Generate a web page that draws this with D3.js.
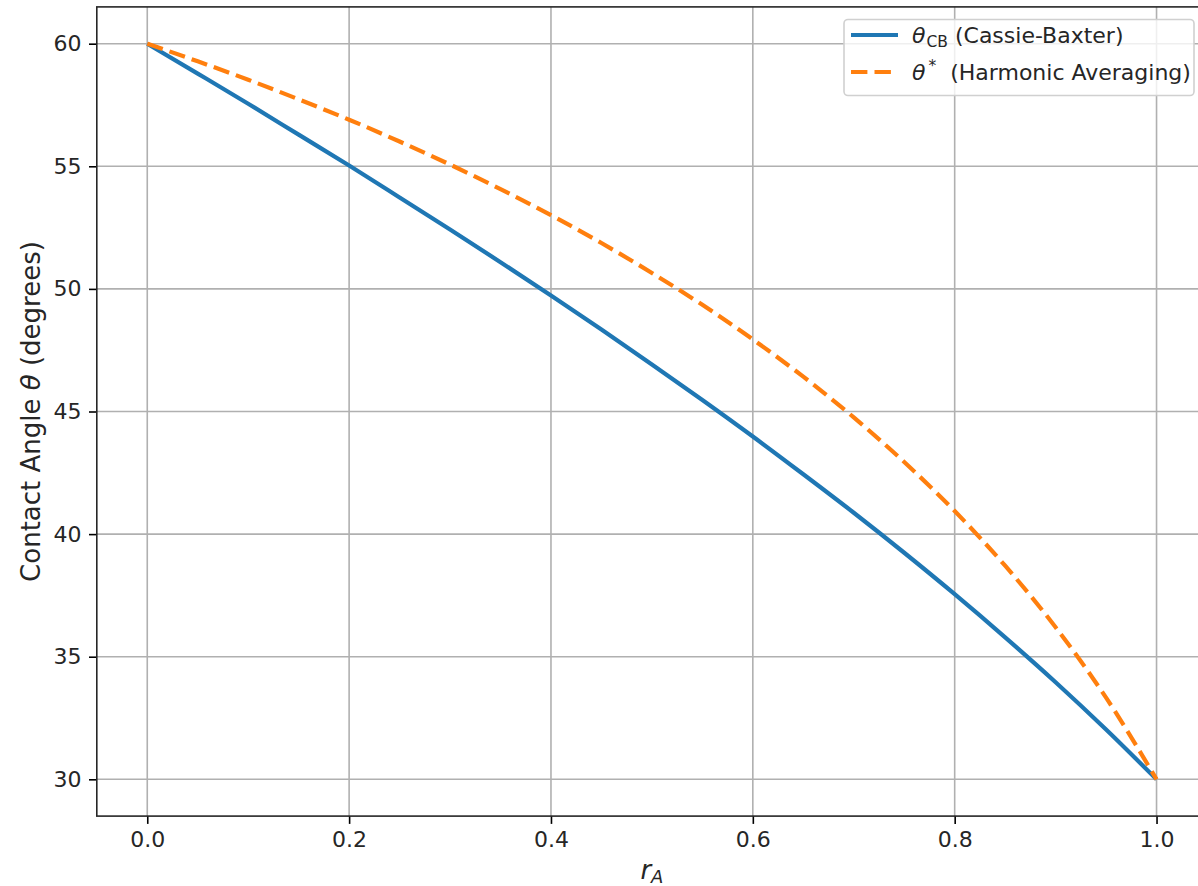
<!DOCTYPE html>
<html>
<head>
<meta charset="utf-8">
<script src="https://cdn.jsdelivr.net/npm/d3@7"></script>
<style>
  html, body { margin: 0; padding: 0; background: #fff; }
  svg { display: block; font-family: "DejaVu Sans", sans-serif; }
</style>
</head>
<body>
<svg id="chart" width="1198" height="886"></svg>
<script>
// Fraction of surface A, and the two contact-angle curves (degrees)
const rA = [0.00, 0.05, 0.10, 0.15, 0.20, 0.25, 0.30, 0.35, 0.40, 0.45, 0.50,
            0.55, 0.60, 0.65, 0.70, 0.75, 0.80, 0.85, 0.90, 0.95, 1.00];
const thetaCB = [60.00, 58.78, 57.55, 56.29, 55.03, 53.73, 52.42, 51.09, 49.73, 48.34, 46.92,
                 45.47, 43.98, 42.44, 40.87, 39.24, 37.55, 35.79, 33.96, 32.03, 30.00];
const thetaStar = [60.00, 59.28, 58.53, 57.73, 56.90, 56.01, 55.07, 54.07, 53.01, 51.87, 50.65,
                   49.35, 47.94, 46.42, 44.76, 42.94, 40.94, 38.71, 36.20, 33.33, 30.00];

const xTicks = [0.0, 0.2, 0.4, 0.6, 0.8, 1.0];
const yTicks = [30, 35, 40, 45, 50, 55, 60];

const svg = d3.select("#chart");
const pLeft = 96.8, pRight = 1207, pTop = 6.9, pBottom = 816.1;

const x = d3.scaleLinear().domain([-0.05, 1.05]).range([pLeft, pRight]);
const y = d3.scaleLinear().domain([28.5, 61.5]).range([pBottom, pTop]);

// grid
const grid = svg.append("g");
grid.selectAll(".gx").data(xTicks).join("line")
  .attr("x1", d => x(d)).attr("x2", d => x(d))
  .attr("y1", pTop).attr("y2", pBottom)
  .attr("stroke", "#b0b0b0").attr("stroke-width", 1.6);
grid.selectAll(".gy").data(yTicks).join("line")
  .attr("x1", pLeft).attr("x2", pRight)
  .attr("y1", d => y(d)).attr("y2", d => y(d))
  .attr("stroke", "#b0b0b0").attr("stroke-width", 1.6);

// curves
const line = (vals) => d3.line()
  .x((d, i) => x(rA[i]))
  .y(d => y(d))
  .curve(d3.curveMonotoneX)(vals);

svg.append("path").attr("d", line(thetaCB))
  .attr("fill", "none").attr("stroke", "#1f77b4")
  .attr("stroke-width", 4.2).attr("stroke-linecap", "butt");
svg.append("path").attr("d", line(thetaStar))
  .attr("fill", "none").attr("stroke", "#ff7f0e")
  .attr("stroke-width", 4.2).attr("stroke-dasharray", "16.4,7.1");

// axes
const xAxis = d3.axisBottom(x).tickValues(xTicks).tickFormat(d3.format(".1f"))
  .tickSize(7.8).tickPadding(7.6).tickSizeOuter(0);
const yAxis = d3.axisLeft(y).tickValues(yTicks).tickFormat(d3.format("d"))
  .tickSize(7.8).tickPadding(7.6).tickSizeOuter(0);

const gx = svg.append("g").attr("transform", `translate(0,${pBottom})`).call(xAxis);
const gy = svg.append("g").attr("transform", `translate(${pLeft},0)`).call(yAxis);
[gx, gy].forEach(g => {
  g.select(".domain").remove();
  g.selectAll(".tick line").attr("stroke", "#000").attr("stroke-width", 1.6);
  g.selectAll(".tick text").attr("fill", "#262626")
    .style("font-family", "'DejaVu Sans', sans-serif").style("font-size", "22px");
});

// spines
const spines = svg.append("g").attr("stroke", "#262626").attr("stroke-width", 1.6).attr("fill", "none");
spines.append("rect").attr("x", pLeft).attr("y", pTop)
  .attr("width", pRight - pLeft).attr("height", pBottom - pTop);

// axis labels
const xl = svg.append("text")
  .attr("x", (pLeft + pRight) / 2).attr("y", 879)
  .attr("text-anchor", "middle").attr("fill", "#262626")
  .style("font-size", "26px");
xl.append("tspan").style("font-style", "italic").text("r");
xl.append("tspan").style("font-style", "italic").style("font-size", "18px")
  .attr("dy", 4).text("A");

const yl = svg.append("text")
  .attr("transform", `translate(40,${(pTop + pBottom) / 2}) rotate(-90)`)
  .attr("text-anchor", "middle").attr("fill", "#262626")
  .style("font-size", "26px");
yl.append("tspan").text("Contact Angle ");
yl.append("tspan").style("font-style", "italic").text("θ");
yl.append("tspan").text(" (degrees)");

// legend
const lg = svg.append("g");
lg.append("rect").attr("x", 844).attr("y", 19.5).attr("width", 350).attr("height", 76)
  .attr("rx", 4).attr("fill", "rgba(255,255,255,0.8)")
  .attr("stroke", "#d0d0d0").attr("stroke-width", 1.6);

const entries = [
  { color: "#1f77b4", dash: null, main: "θ", sub: "CB", sup: null, rest: " (Cassie-Baxter)", cy: 35 },
  { color: "#ff7f0e", dash: "16.4,7.1", main: "θ", sub: null, sup: "*", rest: "  (Harmonic Averaging)", cy: 72 }
];
entries.forEach(e => {
  lg.append("line").attr("x1", 851).attr("x2", 898).attr("y1", e.cy).attr("y2", e.cy)
    .attr("stroke", e.color).attr("stroke-width", 4.2)
    .attr("stroke-dasharray", e.dash);
  const t = lg.append("text").attr("x", 912).attr("y", e.cy + 8)
    .attr("fill", "#262626").style("font-size", "22px").style("white-space", "pre");
  t.append("tspan").style("font-style", "italic").text(e.main);
  if (e.sub) {
    t.append("tspan").style("font-size", "15.5px").attr("dy", 4).attr("dx", 1).text(e.sub);
    t.append("tspan").attr("dy", -4).text(e.rest);
  } else {
    t.append("tspan").style("font-size", "15.5px").attr("dy", -9).attr("dx", 3).text(e.sup);
    t.append("tspan").attr("dy", 9).text(e.rest);
  }
});
</script>
</body>
</html>
